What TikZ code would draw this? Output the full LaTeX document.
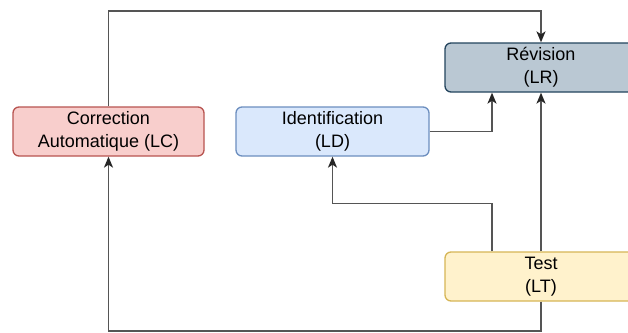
\documentclass[tikz,border=0pt]{standalone}
\usepackage{fontspec}
\setmainfont{Liberation Sans}
\usetikzlibrary{arrows.meta}

\definecolor{lcfill}{HTML}{F8CECC}\definecolor{lcline}{HTML}{B85450}
\definecolor{ldfill}{HTML}{DAE8FC}\definecolor{ldline}{HTML}{6C8EBF}
\definecolor{lrfill}{HTML}{BAC8D3}\definecolor{lrline}{HTML}{23445D}
\definecolor{ltfill}{HTML}{FFF2CC}\definecolor{ltline}{HTML}{D6B656}
\definecolor{wire}{HTML}{555555}

\tikzset{
  box/.style={draw, line width=1.3pt, rounded corners=6pt, minimum height=49pt,
    inner sep=0pt, align=center, font=\fontsize{18}{23}\selectfont},
  conn/.style={draw=wire, line width=1.6pt,
    -{Stealth[length=11pt,width=9pt,inset=3pt,color=black!85]}}
}

\begin{document}
\begin{tikzpicture}[x=1pt,y=-1pt]
  \clip (0,0) rectangle (628,332);
  \fill[white] (0,0) rectangle (628,332);

  % layout guides
  \coordinate (topy) at (0,11);
  \coordinate (midy) at (0,203.5);
  \coordinate (boty) at (0,331);
  \coordinate (xa) at (492,0);

  % process boxes
  \node[box, fill=lcfill, draw=lcline, minimum width=191pt] (LC) at (108.5,131.5)
    {Correction\\Automatique (LC)};
  \node[box, fill=ldfill, draw=ldline, minimum width=193pt] (LD) at (332.5,131.5)
    {Identification\\(LD)};
  \node[box, fill=lrfill, draw=lrline, minimum width=192pt] (LR) at (541,67.5)
    {Révision\\(LR)};
  \node[box, fill=ltfill, draw=ltline, minimum width=192pt] (LT) at (541,276.5)
    {Test\\(LT)};

  % connectors
  \draw[conn] (LC.north) -- (LC.north |- topy) -| (LR.north);
  \draw[conn] (LD.east) -| (xa |- LR.south);
  \draw[conn] (xa |- LT.north) -- (xa |- midy) -| (LD.south);
  \draw[conn] (LT.north) -- (LR.south);
  \draw[conn] (LT.south) -- (LT.south |- boty) -| (LC.south);
\end{tikzpicture}
\end{document}
